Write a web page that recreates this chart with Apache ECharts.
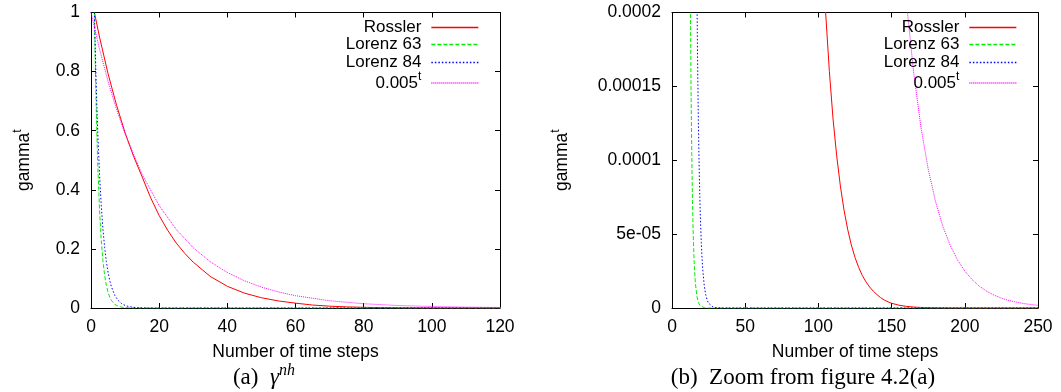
<!DOCTYPE html>
<html>
<head>
<meta charset="utf-8">
<script src="https://cdn.jsdelivr.net/npm/echarts@6/dist/echarts.min.js"></script>
<style>
html,body{margin:0;padding:0;background:#fff;}
#c{width:1061px;height:392px;}
</style>
</head>
<body>
<div id="c"></div>
<script>
// ---- data ----
const seriesNames = ['Rossler', 'Lorenz 63', 'Lorenz 84', '0.005^t'];

const rosslerT = [1,2.5,5,7.5,10,12.5,15,17.5,20,22.5,25,27.5,30,35,40,45,50,55,60,65,70,75,80,85,90,95,100,102.5,105,107.5,110,112.5,115,117.5,120,122.5,125,127.5,130,132.5,135,137.5,140,142.5,145,147.5,150,155,160,165,170,180,190,200,250];
const rosslerV = [1,0.917,0.793,0.686,0.593,0.513,0.444,0.373,0.313,0.263,0.220,0.185,0.155,0.1068,0.0734,0.0504,0.0347,0.0238,0.0164,0.0100,0.00614,0.00376,0.00231,0.00141,0.000866,0.000530,0.000325,0.000254,0.000199,0.000160,0.000128,0.000103,0.0000826,0.0000663,0.0000532,0.0000427,0.0000342,0.0000275,0.0000220,0.0000177,0.0000142,0.0000114,0.0000091,0.0000070,0.0000054,0.0000042,0.0000032,0.0000019,0.0000011,0.00000065,0.00000038,0.00000013,0.00000005,0.00000002,0];

const lorenz63T = [1,1.25,1.5,1.75,2,2.5,3,3.5,4,4.5,5,5.5,6,7,8,9,10,11,12,12.5,13,13.5,14,14.5,15,15.5,16,17,18,19,20,22,25,250];
const lorenz63V = [1,0.832,0.693,0.577,0.48,0.3326,0.2304,0.1596,0.1106,0.0766,0.0531,0.0368,0.0255,0.01223,0.00587,0.00282,0.00135,0.00065,0.000312,0.000216,0.00015,0.000104,0.0000719,0.0000498,0.0000345,0.0000239,0.0000166,0.00000795,0.0000038,0.0000018,0.00000088,0.0000002,0,0];

const lorenz84T = [1,1.25,1.5,1.75,2,2.5,3,3.5,4,4.5,5,5.5,6,7,8,9,10,11,12,13,14,15,16,16.5,17,17.5,18,18.5,19,19.5,20,20.5,21,22,23,24,25,26,28,30,35,250];
const lorenz84V = [1,0.876,0.768,0.673,0.59,0.453,0.348,0.267,0.2054,0.1578,0.1212,0.0931,0.0715,0.0422,0.0249,0.0147,0.00867,0.00511,0.00302,0.00178,0.00105,0.00062,0.000366,0.000281,0.000216,0.000166,0.000127,0.0000977,0.000075,0.0000577,0.0000443,0.000034,0.0000261,0.0000154,0.0000091,0.0000054,0.0000032,0.0000019,0.00000065,0.00000023,0,0];

const powT = [0,2.5,5,7.5,10,15,20,25,30,35,40,45,50,55,60,70,80,90,100,110,120,130,140,150,155,160,165,170,175,180,185,190,195,200,205,210,215,220,225,230,240,250];
const powV = [1,0.876,0.767,0.672,0.589,0.452,0.3466,0.2659,0.2039,0.1565,0.1201,0.0922,0.0707,0.0543,0.0416,0.02451,0.01443,0.0085,0.005,0.002944,0.001734,0.00102,0.000601,0.000354,0.000271,0.000208,0.00016,0.0001226,0.000094,0.0000721,0.0000553,0.0000424,0.0000326,0.000025,0.0000192,0.0000147,0.0000113,0.0000087,0.0000067,0.0000051,0.000003,0.0000018];

const yTicksRight = ['0', '5e-05', '0.0001', '0.00015', '0.0002'];

// ---- chart ----
const FONT = 'Liberation Sans';
const colors = ['#ff0000', '#00ee00', '#0000ff', '#ff00ff'];
const dashes = ['solid', [4, 2], [1.5, 2], [1, 1]];
const tData = [rosslerT, lorenz63T, lorenz84T, powT];
const vData = [rosslerV, lorenz63V, lorenz84V, powV];

function pairs(t, v) { return t.map((x, i) => [x, v[i]]); }

const axisLine = { onZero: false, lineStyle: { color: '#000', width: 1 } };
const tick = { inside: true, length: 5, lineStyle: { color: '#000' } };
const labelStyle = { color: '#000', fontSize: 17.5, fontFamily: FONT };
const nameStyle = { color: '#000', fontSize: 17.5, fontFamily: FONT };

function xAxes(gi, max, interval) {
  return [
    { gridIndex: gi, type: 'value', min: 0, max: max, interval: interval, position: 'bottom',
      axisLine: axisLine, axisTick: tick, splitLine: { show: false },
      axisLabel: Object.assign({ margin: 10 }, labelStyle),
      name: 'Number of time steps', nameLocation: 'middle', nameGap: 35, nameTextStyle: nameStyle },
    { gridIndex: gi, type: 'value', min: 0, max: max, interval: interval, position: 'top',
      axisLine: axisLine, axisTick: tick, splitLine: { show: false }, axisLabel: { show: false } }
  ];
}
function yAxes(gi, max, interval, fmt, gap) {
  return [
    { gridIndex: gi, type: 'value', min: 0, max: max, interval: interval, position: 'left',
      axisLine: axisLine, axisTick: tick, splitLine: { show: false },
      axisLabel: Object.assign({ margin: 11, formatter: fmt }, labelStyle),
      name: '{a|gamma}{b|t}', nameLocation: 'middle', nameRotate: 90, nameGap: gap,
      nameTextStyle: { color: '#000', fontFamily: FONT, fontSize: 17.5,
        rich: { a: { fontSize: 17.5, fontFamily: FONT, color: '#000' },
                b: { fontSize: 12, fontFamily: FONT, color: '#000', padding: [0, 0, 13, 0] } } } },
    { gridIndex: gi, type: 'value', min: 0, max: max, interval: interval, position: 'right',
      axisLine: axisLine, axisTick: tick, splitLine: { show: false }, axisLabel: { show: false } }
  ];
}

const series = [];
[0, 2].forEach(function (ai) {
  seriesNames.forEach(function (n, i) {
    series.push({
      name: n, type: 'line', xAxisIndex: ai, yAxisIndex: ai,
      data: pairs(tData[i], vData[i]), showSymbol: false, symbol: 'none',
      clip: true, silent: true,
      lineStyle: { color: colors[i], width: 1, type: dashes[i] },
      itemStyle: { color: colors[i] }
    });
  });
});

const legendTops = [19, 36, 54, 71];
function legends(rightPos) {
  return seriesNames.map(function (n, i) {
    return {
      data: [n], right: rightPos, top: legendTops[i], orient: 'horizontal', align: 'right',
      padding: 0, itemWidth: 47, itemHeight: 12, selectedMode: false,
      itemStyle: { color: 'rgba(0,0,0,0)', borderColor: 'rgba(0,0,0,0)', borderWidth: 0, opacity: 0 },
      lineStyle: { width: 1.3 },
      formatter: function (name) { return name === '0.005^t' ? '{a|0.005}{b|t}' : '{a|' + name + '}'; },
      textStyle: { color: '#000', fontSize: 17, fontFamily: FONT, padding: [0, 5, 0, 0],
        rich: { a: { fontSize: 17, fontFamily: FONT, color: '#000' },
                b: { fontSize: 12, fontFamily: FONT, color: '#000', padding: [0, 0, 12, 0] } } }
    };
  });
}

const capRich = {
  r: { fontSize: 23, fontFamily: 'Liberation Serif', color: '#000' },
  m: { fontSize: 23, fontFamily: 'Liberation Serif', fontStyle: 'italic', color: '#000' },
  s: { fontSize: 16, fontFamily: 'Liberation Serif', fontStyle: 'italic', color: '#000', padding: [0, 0, 15, 0] }
};

const option = {
  animation: false,
  backgroundColor: '#fff',
  grid: [
    { left: 91, right: 561, top: 12.5, bottom: 84 },
    { left: 672, right: 23, top: 12.5, bottom: 84 }
  ],
  xAxis: xAxes(0, 120, 20).concat(xAxes(1, 250, 50)),
  yAxis: yAxes(0, 1, 0.2, null, 54).concat(
    yAxes(1, 0.0002, 0.00005, function (v) { return yTicksRight[Math.round(v / 0.00005)]; }, 97)),
  legend: legends(582).concat(legends(44)),
  series: series,
  graphic: [
    { type: 'text', x: 264, y: 378, style: { text: '{r|(a)  }{m|γ}{s|nh}', rich: capRich, align: 'center', verticalAlign: 'middle' } },
    { type: 'text', x: 803, y: 378, style: { text: '{r|(b)  Zoom from figure 4.2(a)}', rich: capRich, align: 'center', verticalAlign: 'middle' } }
  ]
};

const chart = echarts.init(document.getElementById('c'), null, { renderer: 'canvas' });
chart.setOption(option);
</script>
</body>
</html>
